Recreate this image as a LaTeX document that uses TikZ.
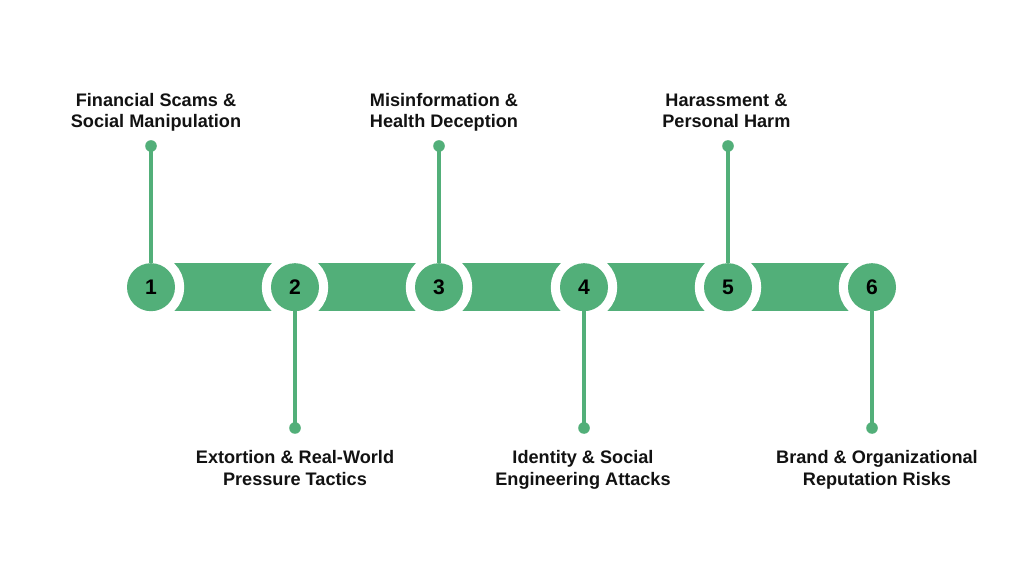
\documentclass[tikz,border=0pt]{standalone}
\usepackage{fontspec}
\setmainfont{Liberation Sans}
\usepackage{tikz}
\definecolor{bandgreen}{HTML}{52AF79}
\tikzset{
    numdot/.style={circle, inner sep=0pt, outer sep=0pt, minimum size=1.2cm, fill=bandgreen,
        preaction={draw=white, line width=0.46cm}, font=\bfseries\fontsize{15}{15}\selectfont},
    enddot/.style={circle, inner sep=0pt, outer sep=0pt, minimum size=0.29cm, fill=bandgreen},
    stem/.style={draw=bandgreen, line width=0.11cm},
    caption/.style={align=center, inner sep=0pt, anchor=base, font=\bfseries\fontsize{12.9}{15.1}\selectfont, text=black!93}
}

\begin{document}
\begin{tikzpicture}
    \useasboundingbox (0, 0) rectangle (25.6, 14.4);
    \fill[white] (0, 0) rectangle (25.6, 14.4);

    \coordinate (bandstart) at (3.775, 7.8125);
    \coordinate (bandend) at (21.8, 6.625);
    \fill[bandgreen] (bandstart) rectangle (bandend);

    \node[numdot] (1) at (3.775, 7.22) {1};
    \node[numdot] (2) at (7.375, 7.22) {2};
    \node[numdot] (3) at (10.975, 7.22) {3};
    \node[numdot] (4) at (14.6, 7.22) {4};
    \node[numdot] (5) at (18.2, 7.22) {5};
    \node[numdot] (6) at (21.8, 7.22) {6};

    \node[enddot] (top1) at (3.775, 10.75) {};
    \node[enddot] (bot2) at (7.375, 3.7) {};
    \node[enddot] (top3) at (10.975, 10.75) {};
    \node[enddot] (bot4) at (14.6, 3.7) {};
    \node[enddot] (top5) at (18.2, 10.75) {};
    \node[enddot] (bot6) at (21.8, 3.7) {};

    \draw[stem] (1) -- (top1.center);
    \draw[stem] (2) -- (bot2.center);
    \draw[stem] (3) -- (top3.center);
    \draw[stem] (4) -- (bot4.center);
    \draw[stem] (5) -- (top5.center);
    \draw[stem] (6) -- (bot6.center);

    \node[caption] (label1) at (3.9, 11.21) {Financial Scams \&\\Social Manipulation};
    \node[caption] (label2) at (7.375, 2.27) {Extortion \& Real-World\\Pressure Tactics};
    \node[caption] (label3) at (11.1, 11.21) {Misinformation \&\\Health Deception};
    \node[caption] (label4) at (14.575, 2.27) {Identity \& Social\\Engineering Attacks};
    \node[caption] (label5) at (18.16, 11.21) {Harassment \&\\Personal Harm};
    \node[caption] (label6) at (21.925, 2.27) {Brand \& Organizational\\Reputation Risks};
\end{tikzpicture}
\end{document}
